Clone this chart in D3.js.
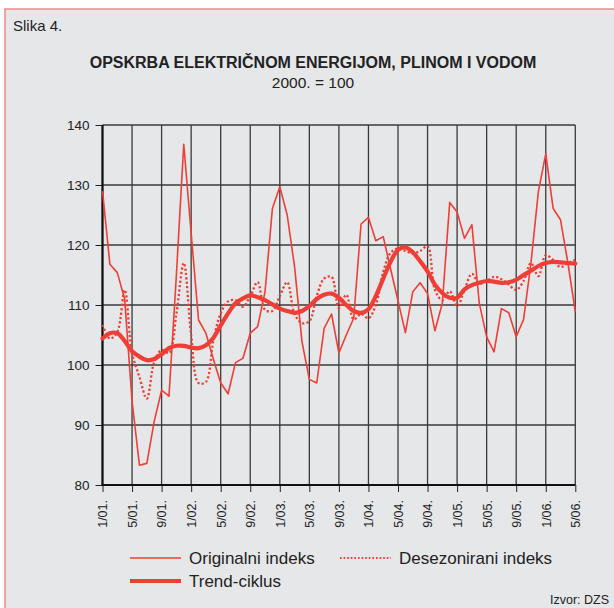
<!DOCTYPE html>
<html>
<head>
<meta charset="utf-8">
<script src="https://cdn.jsdelivr.net/npm/d3@7"></script>
<style>
  body { margin: 0; background: #fff; }
  svg text { font-family: "Liberation Sans", Arial, sans-serif; fill: #222; }
</style>
</head>
<body>
<svg id="chart" width="614" height="608"></svg>
<script>
// monthly index, 1/2001 .. 5/2006 (2000 = 100)
const originalIndex = [
  129.0, 116.8, 115.4, 111.0, 94.0, 83.3, 83.6, 90.6, 95.8, 94.8, 115.0, 136.8,
  122.0, 107.5, 105.3, 101.0, 97.0, 95.2, 100.4, 101.1, 105.3, 106.4, 112.2, 126.1,
  129.7, 125.0, 116.4, 103.9, 97.6, 97.0, 106.1, 108.5, 102.0, 105.0, 107.8, 123.5,
  124.6, 120.7, 121.4, 116.0, 110.7, 105.4, 112.2, 113.7, 111.9, 105.7, 110.3, 127.1,
  125.5, 121.1, 123.4, 110.3, 104.7, 102.2, 109.4, 108.7, 104.7, 107.6, 117.0, 128.9,
  135.2, 126.1, 124.2, 117.0, 108.9
];
const seasonallyAdjusted = [
  106.7, 104.4, 105.5, 112.5, 102.0, 98.0, 94.4, 100.5, 102.5, 102.0, 108.5, 117.0,
  105.0, 97.0, 97.2, 104.0, 108.6, 110.6, 110.8, 109.7, 111.5, 113.8, 109.2, 109.0,
  111.5, 113.8, 108.5, 107.0, 107.3, 111.5, 114.4, 114.7, 109.5, 111.7, 107.6, 108.5,
  107.8, 110.0, 115.5, 118.7, 119.4, 119.0, 118.6, 119.0, 119.8, 112.5, 110.8, 112.3,
  109.8, 112.5, 115.2, 113.6, 114.0, 114.7, 114.3, 113.4, 112.5, 114.0, 117.0, 114.8,
  118.3, 117.5, 116.3, 117.0, 117.5
];
const trendCycle = [
  104.4, 105.3, 105.3, 104.0, 102.3, 101.4, 100.8, 101.0, 101.8, 102.8, 103.2, 103.2,
  102.9, 102.8, 103.3, 104.5, 106.6, 108.6, 110.3, 111.1, 111.6, 111.3, 110.8, 110.1,
  109.4, 109.0, 108.7, 109.0, 109.8, 111.0, 111.7, 111.9, 111.2, 110.0, 109.0, 108.7,
  109.3, 111.5, 114.4, 117.2, 119.2, 119.6, 118.8, 117.3, 115.6, 113.4, 112.0, 111.2,
  111.2, 112.6, 113.3, 113.7, 114.0, 113.9, 113.7, 113.8, 114.2, 115.0, 115.7, 116.5,
  117.0, 117.2, 117.1, 117.0, 116.9
];
const monthTickLabels = ['1/01.', '5/01.', '9/01.', '1/02.', '5/02.', '9/02.', '1/03.', '5/03.', '9/03.',
  '1/04.', '5/04.', '9/04.', '1/05.', '5/05.', '9/05.', '1/06.', '5/06.'];
const yTicks = [80, 90, 100, 110, 120, 130, 140];

const red = '#ef3e36';
const svg = d3.select('#chart');

// frame
svg.append('rect').attr('x', 5).attr('y', 9).attr('width', 620).attr('height', 610)
  .attr('fill', '#e6e7e9').attr('stroke', '#f08a86').attr('stroke-width', 1.5);

svg.append('text').attr('x', 13).attr('y', 31).attr('font-size', 15).text('Slika 4.');
svg.append('text').attr('x', 313).attr('y', 68).attr('text-anchor', 'middle')
  .attr('font-size', 16).attr('font-weight', 'bold')
  .text('OPSKRBA ELEKTRIČNOM ENERGIJOM, PLINOM I VODOM');
svg.append('text').attr('x', 313).attr('y', 88).attr('text-anchor', 'middle')
  .attr('font-size', 15.5).text('2000. = 100');

const x = d3.scaleLinear().domain([0, originalIndex.length - 1]).range([102.5, 575.3]);
const y = d3.scaleLinear().domain([80, 140]).range([485, 125]);

const grid = svg.append('g');
grid.selectAll('line.h').data(yTicks.slice(1)).enter().append('line')
  .attr('x1', x(0)).attr('x2', x(64)).attr('y1', d => y(d)).attr('y2', d => y(d))
  .attr('stroke', '#3a3a3a').attr('stroke-width', 1.3);
grid.selectAll('line.v').data(monthTickLabels).enter().append('line')
  .attr('x1', (d, i) => x(i * 4)).attr('x2', (d, i) => x(i * 4))
  .attr('y1', y(80)).attr('y2', y(140))
  .attr('stroke', '#3a3a3a').attr('stroke-width', 1.3);

// axes
const yAxis = svg.append('g').attr('transform', `translate(${x(0)},0)`)
  .call(d3.axisLeft(y).tickValues(yTicks).tickSize(7).tickPadding(6));
yAxis.select('.domain').remove();
yAxis.selectAll('text').attr('font-size', 13.5).attr('fill', '#222');
yAxis.selectAll('line').attr('stroke', '#222');

const xAxis = svg.append('g').attr('transform', `translate(0,${y(80)})`)
  .call(d3.axisBottom(x).tickValues(d3.range(0, 65, 4)).tickSize(7)
    .tickFormat((d, i) => monthTickLabels[i]));
xAxis.select('.domain').remove();
xAxis.selectAll('line').attr('stroke', '#222');
xAxis.selectAll('text').attr('font-size', 12.5).attr('fill', '#222')
  .attr('text-anchor', 'end').attr('transform', 'rotate(-90)')
  .attr('x', -15).attr('y', 0).attr('dy', '0.35em');

svg.append('line').attr('x1', x(0)).attr('x2', x(0)).attr('y1', y(140)).attr('y2', y(80) + 1)
  .attr('stroke', '#111').attr('stroke-width', 2.2);
svg.append('line').attr('x1', x(0) - 1).attr('x2', x(64)).attr('y1', y(80)).attr('y2', y(80))
  .attr('stroke', '#111').attr('stroke-width', 2.2);

// series
const line = d3.line().x((d, i) => x(i)).y(d => y(d));
const smooth = d3.line().x((d, i) => x(i)).y(d => y(d)).curve(d3.curveCatmullRom);

svg.append('path').datum(seasonallyAdjusted).attr('d', smooth)
  .attr('fill', 'none').attr('stroke', red).attr('stroke-width', 2.3)
  .attr('stroke-dasharray', '2.2,2.2');
svg.append('path').datum(originalIndex).attr('d', line)
  .attr('fill', 'none').attr('stroke', red).attr('stroke-width', 1.6)
  .attr('stroke-linejoin', 'round');
svg.append('path').datum(trendCycle).attr('d', smooth)
  .attr('fill', 'none').attr('stroke', red).attr('stroke-width', 4.2)
  .attr('stroke-linecap', 'round');

// legend
const legendItems = [
  {label: 'Originalni indeks', x: 130, y: 558, width: 1.6, dash: null},
  {label: 'Desezonirani indeks', x: 340, y: 558, width: 2, dash: '1.6,2'},
  {label: 'Trend-ciklus', x: 130, y: 581, width: 4.2, dash: null}
];
const legend = svg.append('g');
legendItems.forEach(item => {
  legend.append('line').attr('x1', item.x).attr('x2', item.x + 51)
    .attr('y1', item.y).attr('y2', item.y)
    .attr('stroke', red).attr('stroke-width', item.width)
    .attr('stroke-dasharray', item.dash);
  legend.append('text').attr('x', item.x + 59).attr('y', item.y + 6)
    .attr('font-size', 17).text(item.label);
});

svg.append('text').attr('x', 609).attr('y', 604).attr('text-anchor', 'end')
  .attr('font-size', 12.5).text('Izvor: DZS');
</script>
</body>
</html>
